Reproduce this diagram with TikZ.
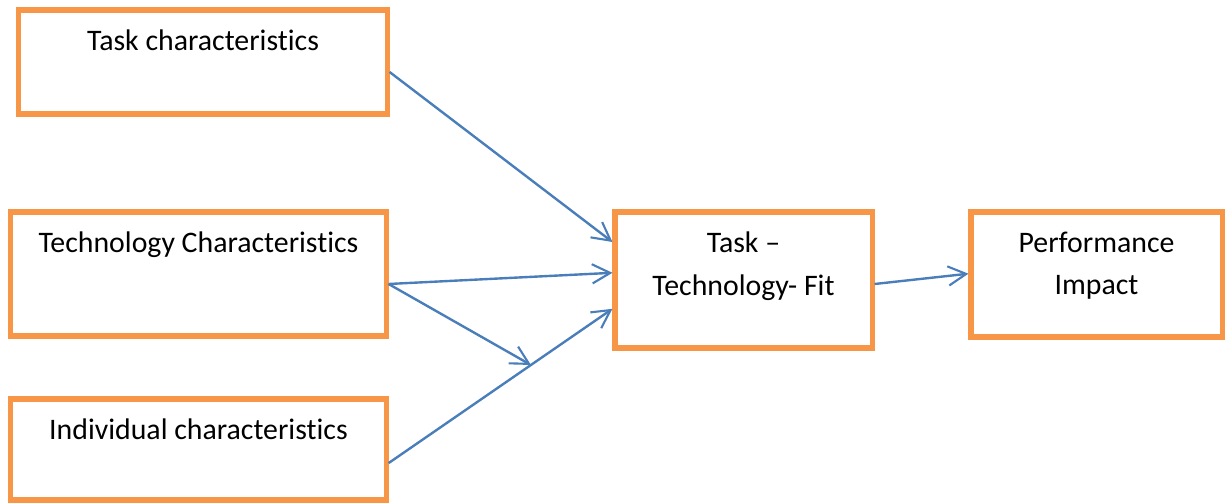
\documentclass[tikz,border=0pt]{standalone}
\usepackage{fontspec}
\setmainfont{Carlito}[Ligatures={NoCommon}]
\usetikzlibrary{arrows.meta}

\definecolor{boxorange}{HTML}{F79646}
\definecolor{linkblue}{HTML}{4A7EBB}

\begin{document}
\begin{tikzpicture}[
    x=0.025cm, y=-0.025cm,
    box/.style={draw=boxorange, line width=3.6pt, fill=white, inner sep=0pt},
    lbl/.style={anchor=north, inner sep=0pt, yshift=-0.56cm, align=center,
        font=\fontsize{21.2}{30}\selectfont},
    arrow/.style={-{Straight Barb[length=4.5mm, width=4.8mm, line width=1.5pt]},
        draw=linkblue, line width=1.7pt},
]

\useasboundingbox (0,0) rectangle (1225,503);

% Input boxes
\node[box, minimum width=9.2cm, minimum height=2.6cm,
    label={[lbl]north:Task characteristics}] (task) at (203, 62) {};
\node[box, minimum width=9.375cm, minimum height=3.1cm,
    label={[lbl]north:Technology Characteristics}] (tech) at (198.5, 274) {};
\node[box, minimum width=9.375cm, minimum height=2.525cm,
    label={[lbl]north:Individual characteristics}] (indiv) at (198.5, 449.5) {};

% Fit and impact
\node[box, minimum width=6.425cm, minimum height=3.4cm,
    label={[lbl]north:Task --\\Technology- Fit}] (ttf) at (743.5, 280) {};
\node[box, minimum width=6.275cm, minimum height=3.125cm,
    label={[lbl]north:Performance\\Impact}] (perf) at (1096.5, 274.5) {};

% Links into the fit box
\draw[arrow] ([yshift=-0.25cm]task.east) -- ([yshift=0.95cm]ttf.west);
\draw[arrow] ([yshift=-0.25cm]tech.east) -- ([yshift=0.18cm]ttf.west);
\draw[arrow] ([yshift=-0.34cm]indiv.east) -- coordinate[pos=0.636] (meet) ([yshift=-0.72cm]ttf.west);
\draw[arrow] ([yshift=-0.25cm]tech.east) -- (meet);

% Fit to impact
\draw[arrow] ([yshift=-0.1cm]ttf.east) -- ([yshift=0.02cm]perf.west);

\end{tikzpicture}
\end{document}
